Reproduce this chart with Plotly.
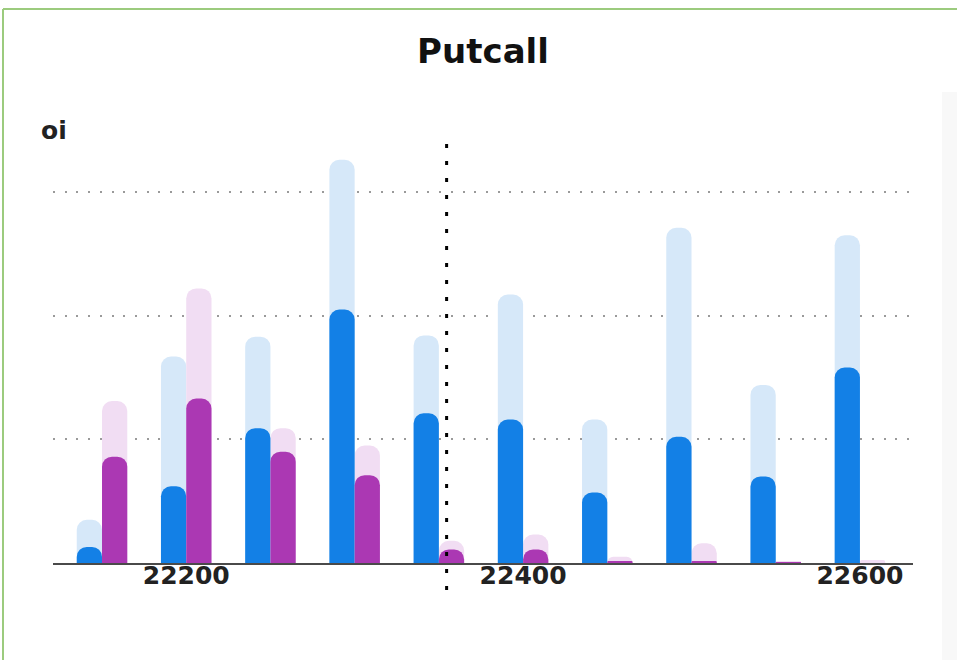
import plotly.graph_objects as go

# ---- data ----
strikes = [22150, 22200, 22250, 22300, 22350, 22400, 22450, 22500, 22550, 22600]
call_oi = [13, 62, 109, 205, 121, 116, 57, 102, 70, 158]
call_oi_hi = [35, 167, 183, 326, 184, 217, 116, 271, 144, 265]
put_oi = [86, 133, 90, 71, 11, 11, 1.5, 1.5, 0.6, 0]
put_oi_hi = [131, 222, 109, 95, 18, 23, 5, 16, 1.2, 2.4]
spot = 22354.6
tick_vals = [22200, 22400, 22600]
tick_text = ["22200", "22400", "22600"]

BLUE = "#1380E6"
BLUE_L = "#D6E8F9"
PURPLE = "#AB38B3"
PURPLE_L = "#F1DDF3"

W = 15  # bar width in strike units
CR = "40%"
fig = go.Figure()
fig.add_trace(go.Bar(x=strikes, y=call_oi_hi, offset=-W, width=W, yaxis="y",
                     marker=dict(color=BLUE_L, cornerradius=CR, line=dict(width=0)), name="call hi"))
fig.add_trace(go.Bar(x=strikes, y=put_oi_hi, offset=0, width=W, yaxis="y",
                     marker=dict(color=PURPLE_L, cornerradius=CR, line=dict(width=0)), name="put hi"))
fig.add_trace(go.Bar(x=strikes, y=call_oi, offset=-W, width=W, yaxis="y2",
                     marker=dict(color=BLUE, cornerradius=CR, line=dict(width=0)), name="call"))
fig.add_trace(go.Bar(x=strikes, y=put_oi, offset=0, width=W, yaxis="y2",
                     marker=dict(color=PURPLE, cornerradius=CR, line=dict(width=0)), name="put"))

L, R, T, B = 53, 44, 140, 97
PW, PH = 957 - L - R, 660 - T - B

def px(xp):
    return (xp - L) / PW

def py(yp):
    return (660 - B - yp) / PH

shapes = [
    # green frame
    dict(type="line", xref="paper", yref="paper", x0=px(3), x1=px(957), y0=py(9), y1=py(9),
         line=dict(color="#9CCB7E", width=2)),
    dict(type="line", xref="paper", yref="paper", x0=px(3), x1=px(3), y0=py(9), y1=py(660),
         line=dict(color="#9CCB7E", width=2)),
    # faint right strip
    dict(type="rect", xref="paper", yref="paper", x0=px(942), x1=px(957), y0=py(92), y1=py(660),
         fillcolor="#F8F8F8", line=dict(width=0), layer="below"),
    # spot line
    dict(type="line", xref="x", yref="paper", x0=spot, x1=spot, y0=py(590), y1=py(140),
         line=dict(color="black", width=3, dash="4px,13px"), layer="above"),
]

YR = [0, 342]
fig.update_layout(
    width=957, height=660, autosize=False,
    margin=dict(l=L, r=R, t=T, b=B, pad=0),
    paper_bgcolor="white", plot_bgcolor="white",
    barmode="overlay", showlegend=False,
    title=dict(text="Putcall", x=0.5, xref="paper", y=1 - 51 / 660, yref="container",
               xanchor="center", yanchor="middle",
               font=dict(family="DejaVu Sans", size=34, color="#111", weight="bold")),
    xaxis=dict(range=[22120.9, 22631.5], tickvals=tick_vals, ticktext=tick_text,
               showgrid=False, zeroline=False, showline=True, linecolor="#4a4a4a", linewidth=2,
               ticks="", ticklabelstandoff=-11,
               tickfont=dict(family="DejaVu Sans", size=25, color="#222", weight="bold")),
    yaxis=dict(range=YR, dtick=100, showticklabels=False, showline=False, zeroline=False,
               showgrid=True, gridcolor="#9A9A9A", gridwidth=1.5, griddash="2px,9.7px", ticks=""),
    yaxis2=dict(range=YR, overlaying="y", showticklabels=False, showline=False, zeroline=False,
                showgrid=False, ticks=""),
    shapes=shapes,
    annotations=[dict(text="oi", xref="paper", yref="paper", x=px(39), y=py(130),
                      xanchor="left", yanchor="middle", showarrow=False,
                      font=dict(family="DejaVu Sans", size=25, color="#222", weight="bold"))],
)

fig.write_html("out.html", config={"displayModeBar": False},
               post_script="document.body.style.margin='0';document.body.style.overflow='hidden';")
